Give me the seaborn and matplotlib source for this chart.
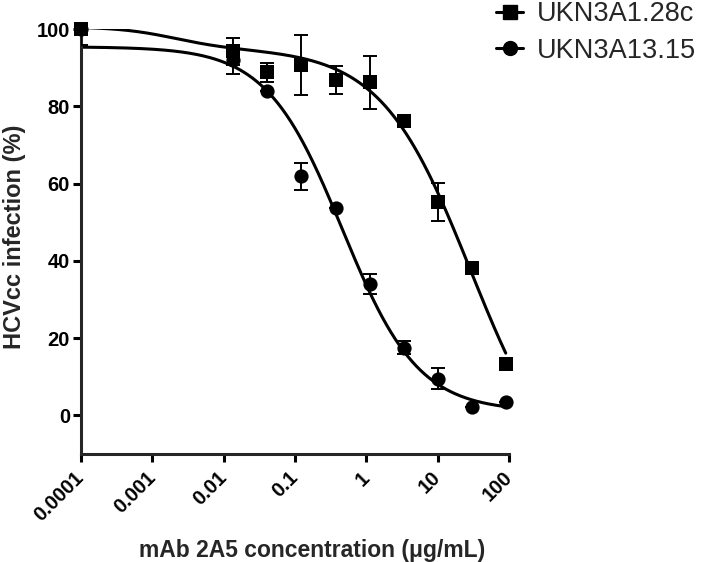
import numpy as np
import pandas as pd
import matplotlib
matplotlib.use("Agg")
import matplotlib.pyplot as plt
import seaborn as sns

# mAb 2A5 doses (ug/mL); the no-antibody control is drawn at 0.0001
doses = [0.0001, 0.0137, 0.041, 0.123, 0.37, 1.11, 3.33, 10, 30, 90]

# UKN3A1.28c (squares): mean and SEM
sq_mean = [100, 94.3, 88.8, 90.7, 86.8, 86.2, 76.1, 55.2, 38.2, 13.4]
sq_err = [0, 3.5, 2.4, 7.8, 3.6, 6.8, 0, 5.0, 0, 0]

# UKN3A13.15 (circles): mean and SEM
ci_mean = [100, 92.0, 84.0, 61.9, 53.7, 34.0, 17.5, 9.5, 2.1, 3.4]
ci_err = [4.1, 3.7, 0, 3.5, 0, 2.5, 1.7, 2.8, 0, 0]

# fitted dose-response curves
# UKN3A1.28c: biphasic fit
sq_top, sq_plateau, sq_bottom = 100.6, 95.0, -20.0
sq_ec50_a, sq_hill_a = 0.002, 1.1
sq_ec50_b, sq_hill_b = 29.0, 0.69
# UKN3A13.15: variable-slope fit
ci_top, ci_bottom = 95.4, 1.0
ci_ec50, ci_hill = 0.46, 0.816

series_names = ["UKN3A1.28c", "UKN3A13.15"]
xticks = [0.0001, 0.001, 0.01, 0.1, 1, 10, 100]
xtick_labels = ["0.0001", "0.001", "0.01", "0.1", "1", "10", "100"]
yticks = [0, 20, 40, 60, 80, 100]


def sqCurve(x):
    """Biphasic inhibition curve for UKN3A1.28c"""
    ua = (x / sq_ec50_a) ** sq_hill_a
    ub = (x / sq_ec50_b) ** sq_hill_b
    return sq_bottom + (sq_plateau - sq_bottom) / (1 + ub) + (sq_top - sq_plateau) / (1 + ua)


def ciCurve(x):
    """Variable slope inhibition curve for UKN3A13.15"""
    return ci_bottom + (ci_top - ci_bottom) / (1 + (x / ci_ec50) ** ci_hill)


sns.set_style("ticks")
plt.rcParams['font.family'] = ['Liberation Sans', 'DejaVu Sans']

fig = plt.figure(figsize=(7.02, 5.62), dpi=100)
ax = fig.add_axes([81 / 702, 108 / 562, 428 / 702, 425 / 562])

xx = np.logspace(np.log10(doses[0]), np.log10(doses[-1]), 400)
curves = pd.DataFrame({"x": np.concatenate([xx, xx]),
                       "y": np.concatenate([sqCurve(xx), ciCurve(xx)]),
                       "series": [series_names[0]] * len(xx) + [series_names[1]] * len(xx)})

sns.lineplot(data=curves[curves.series == series_names[1]], x="x", y="y", color="black",
             linewidth=2.2, ax=ax, legend=False)
sns.lineplot(data=curves[curves.series == series_names[0]], x="x", y="y", color="black",
             linewidth=2.2, ax=ax, legend=False)

# Error bars (SEM)
ax.errorbar(doses, ci_mean, yerr=ci_err, fmt="none", ecolor="black", elinewidth=1.4,
            capsize=5, capthick=1.4, zorder=3)
ax.errorbar(doses, sq_mean, yerr=sq_err, fmt="none", ecolor="black", elinewidth=1.4,
            capsize=5, capthick=1.4, zorder=3)

sns.scatterplot(x=doses, y=ci_mean, marker="o", s=105, color="black", linewidth=0,
                ax=ax, zorder=4, clip_on=False)
sns.scatterplot(x=doses, y=sq_mean, marker="s", s=105, color="black", linewidth=0,
                ax=ax, zorder=5, clip_on=False)

ax.set_xscale("log")
ax.set_xlim(0.0001, 100)
ax.set_ylim(-10, 100)
ax.set_xticks(xticks)
ax.set_xticklabels(xtick_labels, rotation=45, ha="right", va="center", rotation_mode="anchor")
ax.minorticks_off()
ax.set_yticks(yticks)
ax.set_xlabel("")
ax.set_ylabel("")
for lab in ax.get_xticklabels() + ax.get_yticklabels():
    lab.set_fontweight("bold")
    lab.set_fontsize(14.5)

sns.despine(ax=ax)
for side in ["left", "bottom"]:
    ax.spines[side].set_linewidth(2.2)
ax.tick_params(axis="both", width=2.2, length=6, color="black", labelcolor="black")
ax.tick_params(axis="x", pad=9)
ax.tick_params(axis="y", pad=2)

fig.text(312 / 702, 1 - 550 / 562, "mAb 2A5 concentration (\u03bcg/mL)", ha="center",
         va="center", fontsize=16.5, fontweight="bold")
fig.text(15 / 702, 1 - 237 / 562, "HCVcc infection (%)", ha="center", va="center",
         rotation=90, fontsize=17, fontweight="bold")

# Legend outside the plot, top right
handles = [plt.Line2D([], [], color="black", linewidth=2.2, marker="s", markersize=10),
           plt.Line2D([], [], color="black", linewidth=2.2, marker="o", markersize=10)]
fig.legend(handles, series_names, loc="upper left", bbox_to_anchor=(496 / 702, 0.998),
           frameon=False, fontsize=19.5, handlelength=1.0, handletextpad=0.5,
           labelspacing=0.4, borderpad=0, borderaxespad=0)

fig.savefig("out.png", dpi=100)
